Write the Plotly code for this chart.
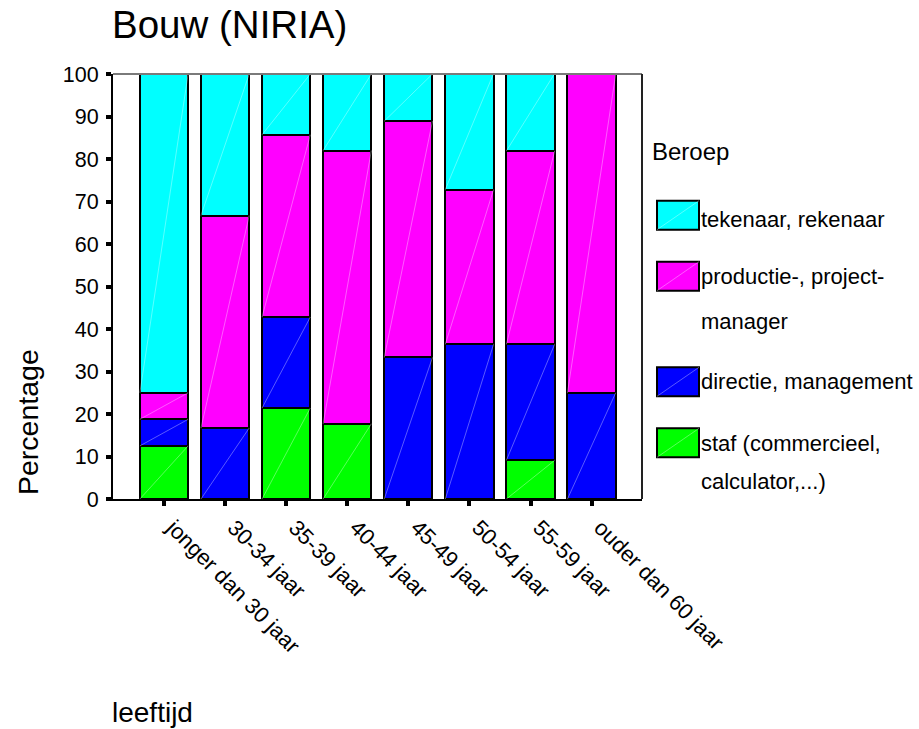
import plotly.graph_objects as go

# ---- data ----
categories = ["jonger dan 30 jaar", "30-34 jaar", "35-39 jaar", "40-44 jaar",
              "45-49 jaar", "50-54 jaar", "55-59 jaar", "ouder dan 60 jaar"]
staf = [12.5, None, 21.4, 17.7, None, None, 9.1, None]
directie = [6.25, 16.7, 21.4, None, 33.3, 36.4, 27.3, 25.0]
productie = [6.25, 50.0, 42.9, 64.3, 55.6, 36.4, 45.5, 75.0]
tekenaar = [75.0, 33.3, 14.3, 18.0, 11.1, 27.3, 18.2, None]

series_names = ["staf (commercieel,\ncalculator,...)", "directie, management",
                "productie-, project-\nmanager", "tekenaar, rekenaar"]
series_values = [staf, directie, productie, tekenaar]
series_colors = ["#00FF00", "#0000FF", "#FF00FF", "#00FFFF"]
y_ticks = [0, 10, 20, 30, 40, 50, 60, 70, 80, 90, 100]

FONT = "Liberation Sans, Arial, sans-serif"
W, H = 919, 729
L, R, T, B = 113, 277, 74, 230
PW, PH = W - L - R, H - T - B
BAR_W = 0.79


def px(x):
    return (x - L) / PW


def py(y):
    return (H - B - y) / PH


fig = go.Figure()
for name, vals, col in zip(series_names, series_values, series_colors):
    fig.add_trace(go.Bar(
        x=categories, y=vals, name=name.replace("\n", " "),
        marker=dict(color=col, line=dict(color="black", width=2)),
        width=BAR_W, showlegend=False,
    ))

# faint diagonal sheen inside each segment (bottom-left to top-right)
shapes = []
base = [0.0] * len(categories)
for vals in series_values:
    for i, v in enumerate(vals):
        if v:
            shapes.append(dict(type="line", xref="x", yref="y",
                               x0=i - BAR_W / 2, y0=base[i],
                               x1=i + BAR_W / 2, y1=base[i] + v,
                               line=dict(color="rgba(255,255,255,0.35)", width=1)))
            base[i] += v

# frame top / right
shapes.append(dict(type="line", xref="paper", yref="paper", x0=0, x1=1, y0=1, y1=1,
                   line=dict(color="#7a7a7a", width=2)))
shapes.append(dict(type="line", xref="paper", yref="paper", x0=1, x1=1, y0=0, y1=1,
                   line=dict(color="#222222", width=2)))

# manual legend
annotations = []
annotations.append(dict(text="Beroep", x=px(650), y=py(151.7), xref="paper", yref="paper",
                        xanchor="left", yanchor="middle", showarrow=False,
                        font=dict(family=FONT, size=24, color="black")))
legend_order = [3, 2, 1, 0]
sw_tops = [200.7, 261.7, 367.3, 428.3]
text_mids = [[219.0], [276.7, 321.0], [381.7], [443.3, 481.7]]
for k, idx in enumerate(legend_order):
    top = sw_tops[k]
    shapes.append(dict(type="rect", xref="paper", yref="paper",
                       x0=px(657), x1=px(699), y0=py(top + 29), y1=py(top),
                       fillcolor=series_colors[idx], line=dict(color="black", width=2)))
    shapes.append(dict(type="line", xref="paper", yref="paper",
                       x0=px(657), x1=px(699), y0=py(top + 29), y1=py(top),
                       line=dict(color="rgba(255,255,255,0.35)", width=1)))
    for line_txt, mid in zip(series_names[idx].split("\n"), text_mids[k]):
        annotations.append(dict(text=line_txt, x=px(699), y=py(mid), xref="paper", yref="paper",
                                xanchor="left", yanchor="middle", showarrow=False,
                                font=dict(family=FONT, size=22, color="black")))

# titles
annotations.append(dict(text="Bouw (NIRIA)", x=px(110), y=py(24.5), xref="paper", yref="paper",
                        xanchor="left", yanchor="middle", showarrow=False,
                        font=dict(family=FONT, size=38.5, color="black")))
annotations.append(dict(text="Percentage", x=px(28), y=py(422), xref="paper", yref="paper",
                        xanchor="center", yanchor="middle", showarrow=False, textangle=-90,
                        font=dict(family=FONT, size=28.5, color="black")))
annotations.append(dict(text="leeftijd", x=px(110), y=py(712.8), xref="paper", yref="paper",
                        xanchor="left", yanchor="middle", showarrow=False,
                        font=dict(family=FONT, size=28, color="black")))

fig.update_layout(
    barmode="stack",
    width=W, height=H,
    margin=dict(l=L, r=R, t=T, b=B, pad=0),
    paper_bgcolor="white", plot_bgcolor="white",
    font=dict(family=FONT, size=21, color="black"),
    shapes=shapes, annotations=annotations,
    xaxis=dict(type="category", range=[-0.835, 7.825], showgrid=False, zeroline=False,
               showline=True, linecolor="black", linewidth=2,
               ticks="outside", ticklen=5, tickwidth=4, tickcolor="black",
               tickangle=45, ticklabelshift=9,
               tickfont=dict(family=FONT, size=22, color="black")),
    yaxis=dict(range=[0, 100], tickvals=y_ticks, showgrid=False, zeroline=False,
               showline=True, linecolor="black", linewidth=2,
               ticks="outside", ticklen=5, tickwidth=4, tickcolor="black",
               ticklabelstandoff=3,
               tickfont=dict(family=FONT, size=21.5, color="black")),
)

fig.write_html("out.html")
